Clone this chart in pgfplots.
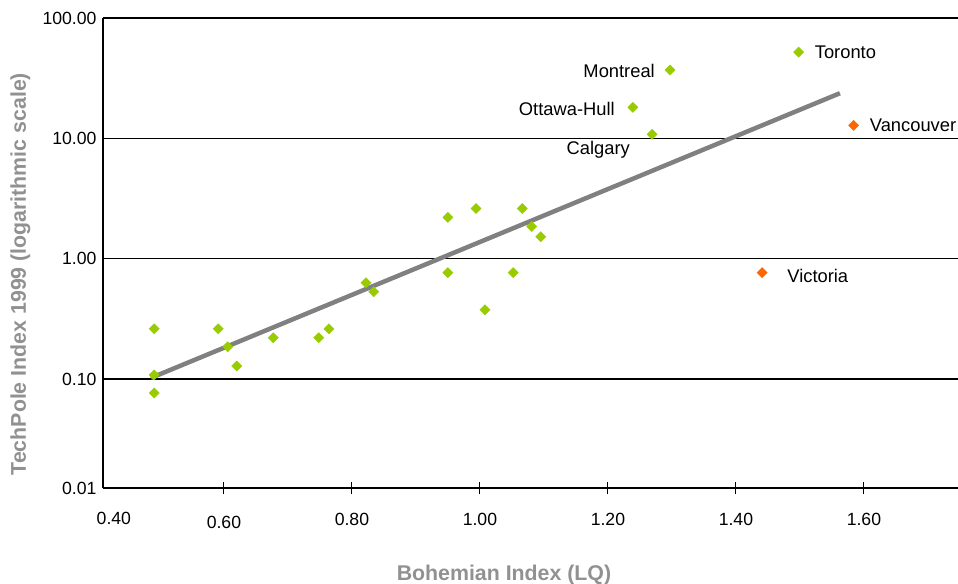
\documentclass[border=0pt]{standalone}
\usepackage{pgfplots}
\pgfplotsset{compat=1.18}
\usepackage{fontspec}
\setmainfont{Liberation Sans}
\definecolor{ptgreen}{RGB}{153,204,0}
\definecolor{ptorange}{RGB}{255,102,0}
\definecolor{trendgray}{RGB}{128,128,128}
\definecolor{labgray}{RGB}{145,145,145}
\begin{document}
\begin{tikzpicture}
\useasboundingbox (-103bp,-96bp) rectangle (855bp,488bp);
\begin{axis}[
  at={(0,0)}, anchor=south west,
  scale only axis, width=855bp, height=470bp,
  xmin=0.411, xmax=1.747,
  ymode=log, ymin=0.0124, ymax=100,
  axis x line*=bottom, axis y line*=left,
  axis line style={black, line width=1.5bp},
  xtick={0.6,0.8,1.0,1.2,1.4,1.6},
  xticklabels={{\rule{0pt}{15bp}0.60},0.80,1.00,1.20,1.40,1.60},
  extra x ticks={0.428}, extra x tick labels={0.40},
  extra x tick style={major tick length=0pt, grid=none, xticklabel style={yshift=-6bp}},
  x tick style={black, line width=1bp},
  major tick length=13bp, tick align=center,
  ytick={0.0124,0.1,1,10,100},
  yticklabels={0.01,0.10,1.00,10.00,100.00},
  y tick style={draw=none},
  ymajorgrids, grid style={black, line width=1.3bp},
  tick label style={font=\fontsize{17.7}{20}\selectfont, black},
  xticklabel style={yshift=-15bp},
  yticklabel style={xshift=3.5bp},
  ylabel={TechPole Index 1999 (logarithmic scale)},
  xlabel={Bohemian Index (LQ)},
  label style={font=\bfseries\fontsize{21.4}{24}\selectfont, text=labgray},
  ylabel style={at={(axis description cs:-0.0965,0.455)}, anchor=center},
  xlabel style={at={(axis description cs:0.469,-0.185)}, anchor=center},
  clip=false,
]
\addplot[trendgray, line width=4.5bp] coordinates {(0.486,0.102) (1.5625,23.7)};
\addplot[only marks, mark=square*, mark size=3.6bp,
  mark options={rotate=45, fill=ptgreen, draw=ptgreen}] coordinates {
  (0.491,0.261) (0.491,0.108) (0.491,0.0764) (0.591,0.261) (0.606,0.185)
  (0.620,0.128) (0.677,0.220) (0.748,0.220) (0.764,0.261) (0.822,0.631)
  (0.834,0.531) (0.950,2.20) (0.994,2.61) (1.066,2.61) (1.081,1.85)
  (1.095,1.52) (0.950,0.765) (1.052,0.765) (1.008,0.376)
  (1.297,36.9) (1.498,52.1) (1.239,18.1) (1.269,10.8)
};
\addplot[only marks, mark=square*, mark size=3.6bp,
  mark options={rotate=45, fill=ptorange, draw=ptorange}] coordinates {
  (1.584,12.8) (1.441,0.765)
};
\begin{scope}[every node/.style={inner sep=0pt, font=\fontsize{18.4}{21}\selectfont}]
\node[anchor=west] at (axis cs:1.498,52.1) [xshift=16bp] {Toronto};
\node[anchor=east] at (axis cs:1.297,36.9) [xshift=-15bp,yshift=-1bp] {Montreal};
\node[anchor=east] at (axis cs:1.239,18.1) [xshift=-18bp,yshift=-2bp] {Ottawa-Hull};
\node[anchor=east] at (axis cs:1.269,10.8) [xshift=-22bp,yshift=-15bp] {Calgary};
\node[anchor=west] at (axis cs:1.584,12.8) [xshift=16bp] {Vancouver};
\node[anchor=west] at (axis cs:1.441,0.765) [xshift=25bp,yshift=-3bp] {Victoria};
\end{scope}
\end{axis}
\end{tikzpicture}
\end{document}
